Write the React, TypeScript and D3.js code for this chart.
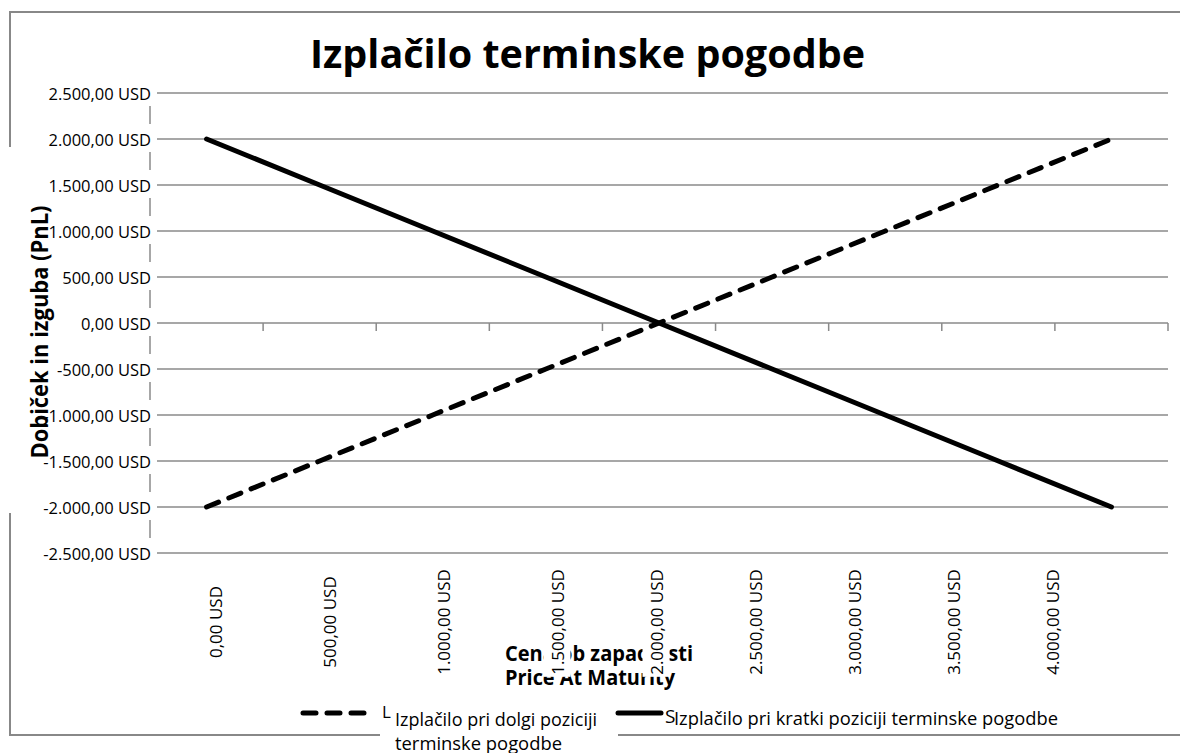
import { useEffect, useRef } from 'react';
import * as d3 from 'd3';

// Data
const prices = [0, 500, 1000, 1500, 2000, 2500, 3000, 3500, 4000];
const longPayoff = [-2000, -1500, -1000, -500, 0, 500, 1000, 1500, 2000];
const shortPayoff = [2000, 1500, 1000, 500, 0, -500, -1000, -1500, -2000];
const yTicks = [-2500, -2000, -1500, -1000, -500, 0, 500, 1000, 1500, 2000, 2500];

const TITLE = 'Izplačilo terminske pogodbe';
const Y_TITLE = 'Dobiček in izguba (PnL)';
const X_TITLE = ['Cena ob zapadlosti', 'Price At Maturity'];
const LEGEND_LONG = ['Izplačilo pri dolgi poziciji', 'terminske pogodbe'];
const LEGEND_SHORT = 'Izplačilo pri kratki poziciji terminske pogodbe';

const WIDTH = 1180;
const HEIGHT = 753;
const GRID = '#8a8a8a';
const FONT = '"Open Sans", "Noto Sans", sans-serif';
const DASH = '13,11';

const sl = d3.formatLocale({
  decimal: ',',
  thousands: '.',
  grouping: [3],
  currency: ['', ''],
  minus: '-',
});
const usd = (v: number) => sl.format(',.2f')(v) + ' USD';

export default function App() {
  const svgRef = useRef<SVGSVGElement>(null);

  useEffect(() => {
    if (!svgRef.current) return;
    const svg = d3.select(svgRef.current);
    svg.selectAll('*').remove();

    const left = 150;
    const right = 1168;
    const top = 93;
    const bottom = 553;

    const x = d3.scaleBand<number>().domain(prices).range([left, right]);
    const cx = (p: number) => (x(p) as number) + x.bandwidth() / 2;
    const y = d3.scaleLinear().domain([-2500, 2500]).range([bottom, top]);

    // outer border
    svg
      .append('rect')
      .attr('x', 10)
      .attr('y', 12)
      .attr('width', 1180)
      .attr('height', 723)
      .attr('fill', '#fff')
      .attr('stroke', '#888')
      .attr('stroke-width', 2);
    // y-title box hides part of the border
    svg.append('rect').attr('x', 4).attr('y', 147).attr('width', 14).attr('height', 366).attr('fill', '#fff');

    // gridlines
    svg
      .append('g')
      .selectAll('line')
      .data(yTicks)
      .join('line')
      .attr('x1', left)
      .attr('x2', right)
      .attr('y1', (d) => y(d))
      .attr('y2', (d) => y(d))
      .attr('stroke', GRID)
      .attr('stroke-width', 1.5);

    // y axis
    svg
      .append('line')
      .attr('x1', left)
      .attr('x2', left)
      .attr('y1', y(2500))
      .attr('y2', y(-2500))
      .attr('stroke', GRID)
      .attr('stroke-width', 1.5);

    // x axis ticks (category boundaries)
    const bounds = prices.map((p) => x(p) as number).concat(right);
    svg
      .append('g')
      .selectAll('line')
      .data(bounds)
      .join('line')
      .attr('x1', (d) => d)
      .attr('x2', (d) => d)
      .attr('y1', y(0))
      .attr('y2', y(0) + 8)
      .attr('stroke', GRID)
      .attr('stroke-width', 1.5);

    // series
    const line = d3
      .line<number>()
      .x((_, i) => cx(prices[i]))
      .y((d) => y(d));

    svg
      .append('path')
      .attr('d', line(longPayoff) as string)
      .attr('fill', 'none')
      .attr('stroke', '#000')
      .attr('stroke-width', 5)
      .attr('stroke-linecap', 'round')
      .attr('stroke-dasharray', DASH);

    svg
      .append('path')
      .attr('d', line(shortPayoff) as string)
      .attr('fill', 'none')
      .attr('stroke', '#000')
      .attr('stroke-width', 5)
      .attr('stroke-linecap', 'round');

    // y labels with white boxes
    yTicks.forEach((v) => {
      const g = svg.append('g');
      const t = g
        .append('text')
        .attr('x', left + 1)
        .attr('y', y(v))
        .attr('text-anchor', 'end')
        .attr('dominant-baseline', 'central')
        .attr('font-family', FONT)
        .attr('font-size', 16.5)
        .attr('fill', '#000')
        .text(usd(v));
      const bb = (t.node() as SVGTextElement).getBBox();
      g.insert('rect', 'text')
        .attr('x', bb.x - 3)
        .attr('y', y(v) - 15)
        .attr('width', bb.width + 9)
        .attr('height', 28)
        .attr('fill', '#fff');
    });

    // x-axis title (drawn below the tick labels)
    X_TITLE.forEach((s, i) => {
      svg
        .append('text')
        .attr('x', 505)
        .attr('y', 661 + i * 24)
        .attr('font-family', FONT)
        .attr('font-weight', 'bold')
        .attr('font-size', 21)
        .attr('textLength', i === 0 ? 188 : 170)
        .attr('lengthAdjust', 'spacingAndGlyphs')
        .attr('fill', '#000')
        .text(s);
    });

    // x labels, rotated (label positions drift away from the category centres)
    const lx = d3.scaleLinear().domain([0, 3, prices.length - 1]).range([215, 557, 1052]);
    prices.forEach((p, i) => {
      const g = svg.append('g').attr('transform', `translate(${lx(i)},622) rotate(-90)`);
      const t = g
        .append('text')
        .attr('x', 0)
        .attr('y', 0)
        .attr('text-anchor', 'middle')
        .attr('dominant-baseline', 'central')
        .attr('font-family', FONT)
        .attr('font-size', 17)
        .attr('fill', '#000')
        .text(usd(p));
      const bb = (t.node() as SVGTextElement).getBBox();
      g.insert('rect', 'text')
        .attr('x', bb.x - 2)
        .attr('y', bb.y - 2)
        .attr('width', bb.width + 4)
        .attr('height', bb.height + 4)
        .attr('fill', '#fff');
    });

    // legend
    const lg = svg.append('g');
    lg.append('rect').attr('x', 380).attr('y', 720).attr('width', 238).attr('height', 33).attr('fill', '#fff');
    lg.append('line')
      .attr('x1', 303)
      .attr('x2', 365)
      .attr('y1', 713)
      .attr('y2', 713)
      .attr('stroke', '#000')
      .attr('stroke-width', 5)
      .attr('stroke-linecap', 'round')
      .attr('stroke-dasharray', DASH);
    lg.append('text')
      .attr('x', 382)
      .attr('y', 718)
      .attr('font-family', FONT)
      .attr('font-size', 17)
      .text('L');
    LEGEND_LONG.forEach((s, i) => {
      lg.append('text')
        .attr('x', 395)
        .attr('y', 726 + i * 24)
        .attr('font-family', FONT)
        .attr('font-size', 18.5)
        .attr('textLength', i === 0 ? 202 : 167)
        .attr('lengthAdjust', 'spacingAndGlyphs')
        .text(s);
    });
    lg.append('line')
      .attr('x1', 618)
      .attr('x2', 661)
      .attr('y1', 713)
      .attr('y2', 713)
      .attr('stroke', '#000')
      .attr('stroke-width', 5)
      .attr('stroke-linecap', 'round');
    lg.append('text')
      .attr('x', 665)
      .attr('y', 723)
      .attr('font-family', FONT)
      .attr('font-size', 19)
      .text('S');
    lg.append('text')
      .attr('x', 674)
      .attr('y', 725)
      .attr('font-family', FONT)
      .attr('font-size', 18.5)
      .attr('textLength', 384)
      .attr('lengthAdjust', 'spacingAndGlyphs')
      .text(LEGEND_SHORT);

    // y-axis title
    svg
      .append('text')
      .attr('transform', 'translate(38,332) rotate(-90)')
      .attr('text-anchor', 'middle')
      .attr('dominant-baseline', 'central')
      .attr('font-family', FONT)
      .attr('font-weight', 'bold')
      .attr('font-size', 24)
      .attr('textLength', 253)
      .attr('lengthAdjust', 'spacingAndGlyphs')
      .text(Y_TITLE);

    // chart title
    svg
      .append('text')
      .attr('x', 310)
      .attr('y', 68)
      .attr('font-family', FONT)
      .attr('font-weight', 'bold')
      .attr('font-size', 40)
      .attr('textLength', 555)
      .attr('lengthAdjust', 'spacingAndGlyphs')
      .text(TITLE);
  }, []);

  return (
    <svg
      ref={svgRef}
      width={WIDTH}
      height={HEIGHT}
      style={{ position: 'absolute', left: 0, top: 0, background: '#fff' }}
    />
  );
}
